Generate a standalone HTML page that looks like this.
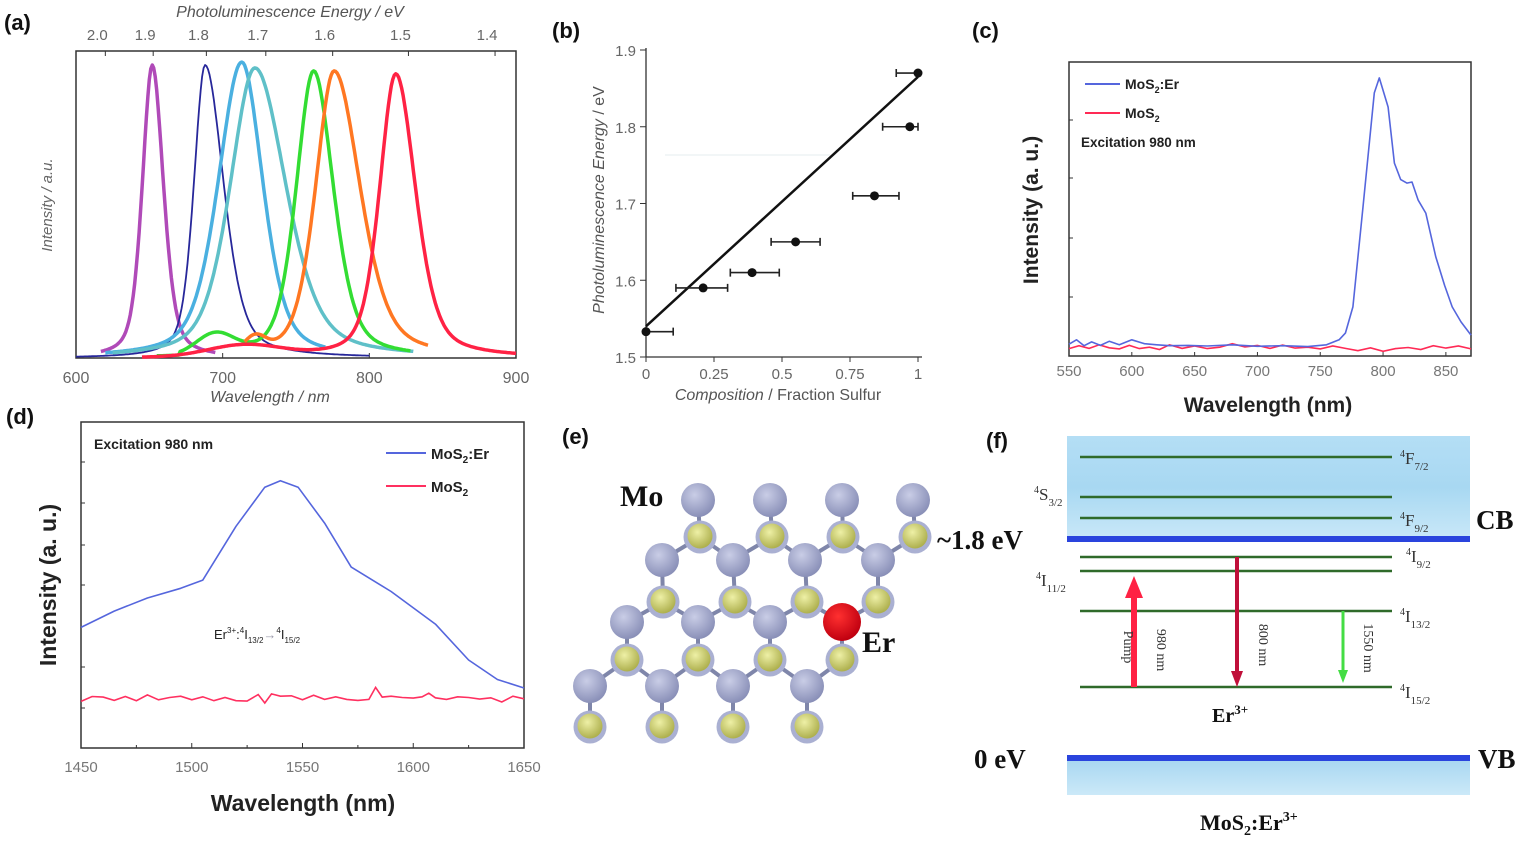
<!DOCTYPE html>
<html><head><meta charset="utf-8">
<style>
html,body{margin:0;padding:0;background:#fff;}
svg{display:block;}
text{font-family:"Liberation Sans",sans-serif;}
.serif{font-family:"Liberation Serif",serif;}
</style></head>
<body>
<svg id="fig" width="1535" height="844" viewBox="0 0 1535 844" xmlns="http://www.w3.org/2000/svg">
<defs>
<linearGradient id="cbg" x1="0" y1="0" x2="0" y2="1">
<stop offset="0" stop-color="#b4def5"/><stop offset="0.5" stop-color="#a8d8f2"/><stop offset="1" stop-color="#c9e8f8"/>
</linearGradient>
<linearGradient id="vbg" x1="0" y1="0" x2="0" y2="1">
<stop offset="0" stop-color="#a6d6f1"/><stop offset="1" stop-color="#cbe9f8"/>
</linearGradient>
<radialGradient id="mog" cx="0.4" cy="0.35" r="0.65">
<stop offset="0" stop-color="#c9cde6"/><stop offset="1" stop-color="#8a90b8"/>
</radialGradient>
<radialGradient id="sg" cx="0.4" cy="0.35" r="0.65">
<stop offset="0" stop-color="#eef0a6"/><stop offset="1" stop-color="#aeb04e"/>
</radialGradient>
<radialGradient id="erg" cx="0.4" cy="0.35" r="0.65">
<stop offset="0" stop-color="#ff3030"/><stop offset="1" stop-color="#c00010"/>
</radialGradient>
</defs>
<g id="root"></g>
</svg>
<script>
// ---------- Panel (a) data ----------
const aColors = ['#b04ab8','#27279a','#4ab0e0','#5fc0c8','#33dd33','#ff7722','#ff2244'];
const aPeakNm = [652, 688, 713, 722, 762, 776, 818];
const aPeakInt = [1.0, 1.0, 1.01, 0.99, 0.98, 0.98, 0.97];
const aHwhmLeft = [8, 9, 19, 20, 14, 15, 13];
const aHwhmRight = [9, 15, 17, 25, 16, 21, 16];
const aStartNm = [617, 600, 620, 625, 655, 715, 645];
const aEndNm = [695, 800, 770, 830, 828, 840, 900];
const aXTicks = [600, 700, 800, 900];
const aETicks = ['2.0','1.9','1.8','1.7','1.6','1.5','1.4'];
// ---------- Panel (b) data ----------
const bComp = [0, 0.21, 0.39, 0.55, 0.84, 0.97, 1.0];
const bEnergy = [1.533, 1.59, 1.61, 1.65, 1.71, 1.80, 1.87];
const bErrLo = [0, 0.11, 0.31, 0.46, 0.76, 0.87, 0.92];
const bErrHi = [0.1, 0.30, 0.49, 0.64, 0.93, 1.0, 1.0];
const bFit = [1.54, 1.865];
const bXTicks = ['0','0.25','0.5','0.75','1'];
const bYTicks = ['1.5','1.6','1.7','1.8','1.9'];
// ---------- Panel (c) data ----------
const cErNm = [550,556,562,568,575,582,590,600,610,620,630,645,660,680,700,720,740,755,765,770,776,784,793,797,804,809,814,819,823,828,834,842,849,855,862,870];
const cErInt = [4,5.5,3.5,4.8,3.6,5,3.8,5.5,4.2,3.8,3.5,3.6,3.4,3.8,3.3,3.5,3.2,3.8,5.5,7.8,16.7,50.7,89.5,94.6,84.7,65.6,60,58.8,59.2,53,48.6,33.7,24,16.7,11.6,7.1];
const cMoNm = [550,558,566,574,582,590,598,606,614,622,630,640,650,660,670,680,690,700,710,720,730,740,750,760,770,780,790,800,810,820,830,840,850,860,870];
const cMoInt = [2.5,3.5,2.6,3.8,2.8,2.4,3.6,2.5,3.0,2.2,3.8,2.6,3.4,2.5,3.0,4.2,3.1,3.6,2.6,3.7,2.7,3.0,2.4,3.4,2.6,1.8,2.8,1.6,2.5,2.9,2.2,3.5,2.7,3.4,2.4];
const cXTicks = [550,600,650,700,750,800,850];
// ---------- Panel (d) data ----------
const dErNm = [1450,1465,1480,1495,1505,1520,1533,1540,1548,1560,1572,1590,1610,1625,1638,1650];
const dErInt = [37,42,46,49,51.5,68,80,82,80,69,55.5,48,38,27,21,18.4];
const dMoNm = [1450,1455,1460,1465,1470,1475,1480,1485,1490,1495,1500,1505,1510,1515,1520,1525,1530,1533,1536,1540,1545,1550,1555,1560,1565,1570,1575,1580,1583,1586,1590,1595,1600,1604,1607,1610,1615,1620,1625,1630,1635,1640,1645,1650];
const dMoInt = [14.3,15.8,15.6,14.6,15.8,14.5,16.3,14.8,15.5,15.9,14.8,15.7,14.5,15.5,14.5,14.4,16.4,13.8,16.6,15.9,16.0,14.8,16.2,14.9,15.7,14.9,14.6,14.9,18.6,15.6,15.9,15.5,15.3,15.7,16.8,15.4,14.9,15.7,15.5,15.0,15.4,14.1,15.9,15.1];
const dXTicks = [1450,1500,1550,1600,1650];

const NS='http://www.w3.org/2000/svg';
const root=document.getElementById('root');
function mk(tag,attrs,parent){const e=document.createElementNS(NS,tag);for(const k in attrs)e.setAttribute(k,attrs[k]);(parent||root).appendChild(e);return e;}
function txt(x,y,s,attrs,parent){const e=mk('text',Object.assign({x:x,y:y},attrs),parent);e.textContent=s;return e;}
function lin(d0,d1,p0,p1){return v=>p0+(v-d0)/(d1-d0)*(p1-p0);}
function pathFrom(xs,ys,sx,sy){return xs.map((v,i)=>(i?'L':'M')+sx(v).toFixed(1)+','+sy(ys[i]).toFixed(1)).join(' ');}

// ===== Panel labels =====
[['(a)',4,30],['(b)',552,38],['(c)',972,38],['(d)',6,424],['(e)',562,444],['(f)',986,448]].forEach(p=>{
  const t=txt(p[1],p[2],p[0],{'font-size':22,'font-weight':'bold',fill:'#111'});
  
  
});

// ===== Panel (a) =====
(function(){
  const g=mk('g',{});
  
  
  const sx=lin(600,900,76,516), sy=lin(0,1,358,65);
  mk('rect',{x:76,y:51,width:440,height:307,fill:'none',stroke:'#333','stroke-width':1.5},g);
  aXTicks.forEach(v=>{
    mk('line',{x1:sx(v),x2:sx(v),y1:358,y2:353,stroke:'#333'},g);
    const t=txt(sx(v),383,String(v),{'font-size':16,fill:'#666','text-anchor':'middle'},g);
    
    
  });
  aETicks.forEach(s=>{
    const x=sx(1240/parseFloat(s));
    mk('line',{x1:x,x2:x,y1:51,y2:56,stroke:'#333'},g);
    const t=txt(x-8,40,s,{'font-size':15,fill:'#666','text-anchor':'middle'},g);
    
    
  });
  const xt=txt(270,402,'Wavelength / nm',{'font-size':16,'font-style':'italic',fill:'#555','text-anchor':'middle'},g);
  
  
  const tt=txt(290,17,'Photoluminescence Energy / eV',{'font-size':16,'font-style':'italic',fill:'#555','text-anchor':'middle'},g);
  
  
  const yt=txt(0,0,'Intensity / a.u.',{'font-size':15,'font-style':'italic',fill:'#666','text-anchor':'middle',transform:'translate(52,205) rotate(-90)'},g);
  
  
  aPeakNm.forEach((pk,i)=>{
    const xs=[],ys=[];
    for(let w=aStartNm[i];w<=aEndNm[i];w+=1){
      const d=w-pk, h=d<0?aHwhmLeft[i]:aHwhmRight[i];
      const lor=1/(1+(d/h)*(d/h)), gau=Math.exp(-0.693*(d/h)*(d/h));
      let v=aPeakInt[i]*(0.55*gau+0.45*lor);
      if(i===4 && w>670 && w<735) v+=0.07*Math.exp(-Math.pow((w-695)/18,2));
      if(i===6) v+=0.04*Math.exp(-Math.pow((w-715)/35,2));
      if(i===5) v+=0.05*Math.exp(-Math.pow((w-722)/10,2));
      xs.push(w);ys.push(v);
    }
    const p=mk('path',{d:pathFrom(xs,ys,sx,sy),fill:'none',stroke:aColors[i],'stroke-width':i===1?1.8:3.5,'stroke-linejoin':'round'},g);
    
    
  });
})();

// ===== Panel (b) =====
(function(){
  const g=mk('g',{});
  
  
  const sx=lin(0,1,646,918), sy=lin(1.5,1.9,357,50);
  mk('line',{x1:646,x2:646,y1:48,y2:357,stroke:'#333','stroke-width':1.3},g);
  mk('line',{x1:646,x2:922,y1:357,y2:357,stroke:'#333','stroke-width':1.3},g);
  mk('line',{x1:665,x2:830,y1:155,y2:155,stroke:'#e6ecef','stroke-width':1},g);
  bYTicks.forEach(s=>{const v=parseFloat(s);
    mk('line',{x1:640,x2:646,y1:sy(v),y2:sy(v),stroke:'#333'},g);
    const t=txt(636,sy(v)+6,s,{'font-size':15,fill:'#666','text-anchor':'end'},g);
    
    
  });
  bXTicks.forEach(s=>{const v=parseFloat(s);
    mk('line',{x1:sx(v),x2:sx(v),y1:357,y2:362,stroke:'#333'},g);
    const t=txt(sx(v),379,s,{'font-size':15,fill:'#666','text-anchor':'middle'},g);
    
    
  });
  const xt=txt(778,400,'',{'font-size':16,fill:'#555','text-anchor':'middle'},g);
  xt.innerHTML='<tspan font-style="italic">Composition</tspan> / Fraction Sulfur';
  
  
  const yt=txt(0,0,'',{'font-size':16,fill:'#555','text-anchor':'middle',transform:'translate(604,200) rotate(-90)'},g);
  yt.innerHTML='<tspan font-style="italic">Photoluminescence Energy</tspan> / eV';
  
  
  const fl=mk('line',{x1:sx(0),y1:sy(bFit[0]),x2:sx(1),y2:sy(bFit[1]),stroke:'#111','stroke-width':2.5},g);
  
  
  bComp.forEach((c,i)=>{
    const y=sy(bEnergy[i]);
    const eb=mk('path',{d:`M${sx(bErrLo[i])},${y}H${sx(bErrHi[i])}M${sx(bErrLo[i])},${y-4}V${y+4}M${sx(bErrHi[i])},${y-4}V${y+4}`,stroke:'#222','stroke-width':1.6,fill:'none'},g);
    
    
    const pt=mk('circle',{cx:sx(c),cy:y,r:4.5,fill:'#111'},g);
    
    
  });
})();

// ===== Panel (c) =====
(function(){
  const g=mk('g',{});
  
  
  const sx=lin(550,870,1069,1471), sy=lin(0,100,356,62);
  mk('rect',{x:1069,y:62,width:402,height:294,fill:'none',stroke:'#333','stroke-width':1.5},g);
  [120,178,238,297].forEach(y=>mk('line',{x1:1069,x2:1073,y1:y,y2:y,stroke:'#333'},g));
  cXTicks.forEach(v=>{
    mk('line',{x1:sx(v),x2:sx(v),y1:356,y2:352,stroke:'#333'},g);
    const t=txt(sx(v),376,String(v),{'font-size':15,fill:'#777','text-anchor':'middle'},g);
    
    
  });
  const xt=txt(1268,412,'Wavelength (nm)',{'font-size':21,'font-weight':'bold',fill:'#222','text-anchor':'middle'},g);
  
  
  const yt=txt(0,0,'Intensity (a. u.)',{'font-size':21,'font-weight':'bold',fill:'#222','text-anchor':'middle',transform:'translate(1038,210) rotate(-90)'},g);
  
  
  const r=mk('path',{d:pathFrom(cMoNm,cMoInt,sx,sy),fill:'none',stroke:'#ff2a55','stroke-width':1.6},g);
  
  
  const b=mk('path',{d:pathFrom(cErNm,cErInt,sx,sy),fill:'none',stroke:'#5566dd','stroke-width':1.6,'stroke-linejoin':'round'},g);
  
  
  mk('line',{x1:1085,x2:1120,y1:84,y2:84,stroke:'#5566dd','stroke-width':2},g);
  mk('line',{x1:1085,x2:1120,y1:113,y2:113,stroke:'#ff2a55','stroke-width':2},g);
  const l1=txt(1125,89,'',{'font-size':14,'font-weight':'bold',fill:'#222'},g);
  l1.innerHTML='MoS<tspan font-size="9" dy="4">2</tspan><tspan dy="-4">:Er</tspan>';
  
  
  const l2=txt(1125,118,'',{'font-size':14,'font-weight':'bold',fill:'#222'},g);
  l2.innerHTML='MoS<tspan font-size="9" dy="4">2</tspan>';
  
  
  const ex=txt(1081,147,'Excitation 980 nm',{'font-size':13.5,'font-weight':'bold',fill:'#222'},g);
  
  
})();

// ===== Panel (d) =====
(function(){
  const g=mk('g',{});
  
  
  const sx=lin(1450,1650,81,524), sy=lin(0,100,748,422);
  mk('rect',{x:81,y:422,width:443,height:326,fill:'none',stroke:'#333','stroke-width':1.5},g);
  [462,503,545,585,667,708].forEach(y=>mk('line',{x1:81,x2:85,y1:y,y2:y,stroke:'#333'},g));
  dXTicks.forEach(v=>{
    mk('line',{x1:sx(v),x2:sx(v),y1:748,y2:743,stroke:'#333'},g);
    if(v<1650) mk('line',{x1:sx(v+25),x2:sx(v+25),y1:748,y2:745,stroke:'#333'},g);
    const t=txt(sx(v),772,String(v),{'font-size':15,fill:'#777','text-anchor':'middle'},g);
    
    
  });
  const xt=txt(303,811,'Wavelength (nm)',{'font-size':23,'font-weight':'bold',fill:'#222','text-anchor':'middle'},g);
  
  
  const yt=txt(0,0,'Intensity (a. u.)',{'font-size':23,'font-weight':'bold',fill:'#222','text-anchor':'middle',transform:'translate(56,585) rotate(-90)'},g);
  
  
  const r=mk('path',{d:pathFrom(dMoNm,dMoInt,sx,sy),fill:'none',stroke:'#ff3060','stroke-width':1.6},g);
  
  
  const b=mk('path',{d:pathFrom(dErNm,dErInt,sx,sy),fill:'none',stroke:'#5566dd','stroke-width':1.6,'stroke-linejoin':'round'},g);
  
  
  mk('line',{x1:386,x2:426,y1:453,y2:453,stroke:'#5566dd','stroke-width':2},g);
  mk('line',{x1:386,x2:426,y1:486,y2:486,stroke:'#ff3060','stroke-width':2},g);
  const l1=txt(431,459,'',{'font-size':15,'font-weight':'bold',fill:'#222'},g);
  l1.innerHTML='MoS<tspan font-size="10" dy="4">2</tspan><tspan dy="-4">:Er</tspan>';
  
  
  const l2=txt(431,492,'',{'font-size':15,'font-weight':'bold',fill:'#222'},g);
  l2.innerHTML='MoS<tspan font-size="10" dy="4">2</tspan>';
  
  
  const ex=txt(94,449,'Excitation 980 nm',{'font-size':14,'font-weight':'bold',fill:'#222'},g);
  
  
  const tr=txt(214,639,'',{'font-size':13,fill:'#222'},g);
  tr.innerHTML='Er<tspan font-size="8" dy="-6">3+</tspan><tspan dy="6">:</tspan><tspan font-size="8" dy="-6">4</tspan><tspan dy="6">I</tspan><tspan font-size="8" dy="4">13/2</tspan><tspan dy="-4" fill="#99a">→</tspan><tspan font-size="8" dy="-6">4</tspan><tspan dy="6">I</tspan><tspan font-size="8" dy="4">15/2</tspan>';
  
  
})();

// ===== Panel (e) lattice =====
(function(){
  const g=mk('g',{});
  
  
  const mo=[[698,500],[770,500],[842,500],[913,500],[662,560],[733,560],[805,560],[878,560],[627,622],[698,622],[770,622],[590,686],[662,686],[733,686],[807,686]];
  const s=[[700,537],[772,537],[843,537],[915,537],[663,602],[735,602],[807,602],[878,602],[627,660],[698,660],[770,660],[842,660],[590,727],[662,727],[733,727],[807,727]];
  const er=[842,622];
  const bonds=[];
  s.slice(0,4).forEach((p,i)=>{bonds.push([mo[i],p]);});
  [[0,4],[0,5],[1,5],[1,6],[2,6],[2,7],[3,7]].forEach(b=>bonds.push([s[b[0]],mo[b[1]]]));
  [4,5,6,7].forEach((m,i)=>bonds.push([mo[m],s[4+i]]));
  [[4,8],[4,9],[5,9],[5,10],[6,10],[6,11],[7,11]].forEach(b=>bonds.push([s[b[0]],b[1]===11?er:mo[b[1]]]));
  [8,9,10].forEach((m,i)=>bonds.push([mo[m],s[8+i]]));
  bonds.push([er,s[11]]);
  [[8,11],[8,12],[9,12],[9,13],[10,13],[10,14],[11,14]].forEach(b=>bonds.push([s[b[0]],mo[b[1]]]));
  [11,12,13,14].forEach((m,i)=>bonds.push([mo[m],s[12+i]]));
  bonds.forEach(b=>mk('line',{x1:b[0][0],y1:b[0][1],x2:b[1][0],y2:b[1][1],stroke:'#7f86aa','stroke-width':4},g));
  mo.forEach(p=>{const c=mk('circle',{cx:p[0],cy:p[1],r:17,fill:'url(#mog)'},g);
    
    });
  s.forEach(p=>{
    mk('circle',{cx:p[0],cy:p[1],r:16.5,fill:'#aab0d2'},g);
    const c=mk('circle',{cx:p[0],cy:p[1]-1,r:12.5,fill:'url(#sg)'},g);
    
    });
  const e=mk('circle',{cx:er[0],cy:er[1],r:19,fill:'url(#erg)'},g);
  
  
  const m=txt(620,506,'Mo',{'font-size':30,'font-weight':'bold',fill:'#111',class:'serif'},g);
  
  
  const el=txt(862,652,'Er',{'font-size':30,'font-weight':'bold',fill:'#111',class:'serif'},g);
  
  
})();

// ===== Panel (f) energy diagram =====
(function(){
  const g=mk('g',{});
  
  
  const cb=mk('rect',{x:1067,y:436,width:403,height:103,fill:'url(#cbg)'},g);
  
  
  mk('rect',{x:1067,y:536,width:403,height:6,fill:'#2a44dd'},g);
  const vb=mk('rect',{x:1067,y:758,width:403,height:37,fill:'url(#vbg)'},g);
  
  
  mk('rect',{x:1067,y:755,width:403,height:6,fill:'#2a44dd'},g);
  [457,497,518,557,571,611,687].forEach(y=>{
    const l=mk('line',{x1:1080,x2:1392,y1:y,y2:y,stroke:'#2f6a2a','stroke-width':2.5},g);
    
    
  });
  const lab=[['4','F','7/2',1400,464],['4','S','3/2',1034,500],['4','F','9/2',1400,526],['4','I','9/2',1406,562],['4','I','11/2',1036,586],['4','I','13/2',1400,622],['4','I','15/2',1400,698]];
  lab.forEach(L=>{
    const t=txt(L[3],L[4],'',{'font-size':17,fill:'#333',class:'serif'},g);
    t.innerHTML='<tspan font-size="10" dy="-7">'+L[0]+'</tspan><tspan dy="7">'+L[1]+'</tspan><tspan font-size="11" dy="6">'+L[2]+'</tspan>';
    
    
  });
  mk('line',{x1:1134,x2:1134,y1:687,y2:596,stroke:'#ff2244','stroke-width':6},g);
  mk('polygon',{points:'1125,598 1143,598 1134,576',fill:'#ff2244'},g);
  mk('line',{x1:1237,x2:1237,y1:557,y2:673,stroke:'#c0103a','stroke-width':4},g);
  mk('polygon',{points:'1231,671 1243,671 1237,687',fill:'#c0103a'},g);
  mk('line',{x1:1343,x2:1343,y1:611,y2:672,stroke:'#44dd44','stroke-width':3},g);
  mk('polygon',{points:'1338,670 1348,670 1343,683',fill:'#44dd44'},g);
  [['Pump',1124,647],['980 nm',1157,650],['800 nm',1259,645],['1550 nm',1364,648]].forEach(a=>{
    const t=txt(0,0,a[0],{'font-size':14,fill:'#333',class:'serif','text-anchor':'middle',transform:`translate(${a[1]},${a[2]}) rotate(90)`},g);
    
    
  });
  const bold={'font-size':27,'font-weight':'bold',fill:'#111',class:'serif'};
  const t1=txt(937,549,'~1.8 eV',bold,g);
  const t2=txt(974,768,'0 eV',bold,g);
  const t3=txt(1476,529,'CB',bold,g);
  const t4=txt(1478,768,'VB',bold,g);
  const t5=txt(1212,722,'',{'font-size':20,'font-weight':'bold',fill:'#111',class:'serif'},g);
  t5.innerHTML='Er<tspan font-size="13" dy="-8">3+</tspan>';
  
  const t6=txt(1200,830,'',{'font-size':22,'font-weight':'bold',fill:'#111',class:'serif'},g);
  t6.innerHTML='MoS<tspan font-size="14" dy="5">2</tspan><tspan dy="-5">:Er</tspan><tspan font-size="14" dy="-9">3+</tspan>';
  
})();
</script>
</body></html>
